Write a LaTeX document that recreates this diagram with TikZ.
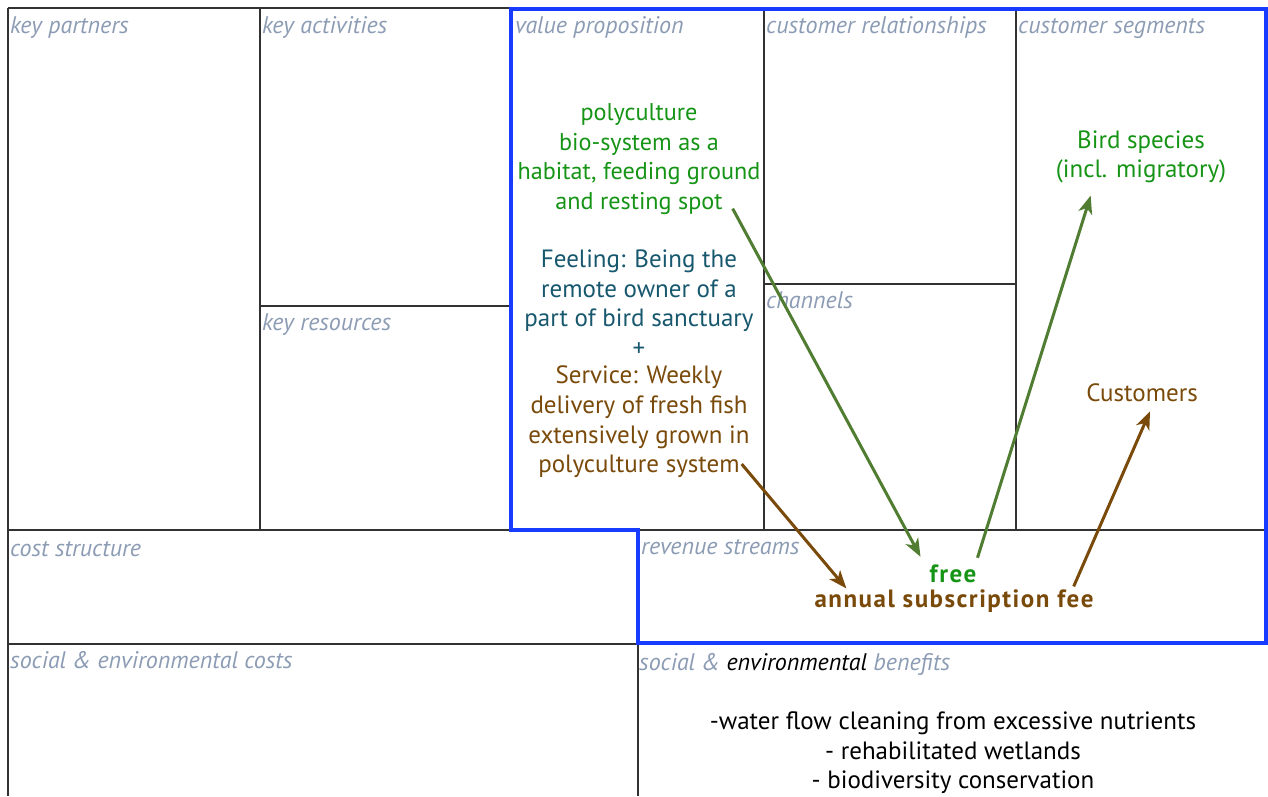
\documentclass[tikz,border=0pt]{standalone}
\usepackage{fontspec}
\setmainfont{PT Sans}
\usetikzlibrary{arrows.meta,calc}
\definecolor{labelgray}{RGB}{140,156,180}
\definecolor{vpgreen}{RGB}{22,148,22}
\definecolor{vpteal}{RGB}{24,88,110}
\definecolor{vpbrown}{RGB}{122,74,10}
\definecolor{arrgreen}{RGB}{80,125,50}
\definecolor{frameblue}{RGB}{24,60,255}
\definecolor{gridline}{RGB}{50,50,50}
\begin{document}
\begin{tikzpicture}[x=1pt,y=-1pt,
  lbl/.style={font=\itshape\fontsize{24}{26}\selectfont, text=labelgray, anchor=base west, inner sep=0pt},
  body/.style={font=\fontsize{25}{29.6}\selectfont, align=center, inner sep=0pt},
  boldtxt/.style={font=\bfseries\fontsize{25}{27}\selectfont\addfontfeature{LetterSpace=6}, inner sep=0pt},
  grid/.style={draw=gridline, line width=1.1pt},
  conn/.style={line width=3pt, -{Stealth[length=18pt,width=14pt,inset=5pt]}}]
\useasboundingbox (0,0) rectangle (1268,796);
\fill[white] (0,0) rectangle (1268,796);

% canvas grid
\draw[grid] (8,8) -- (1268,8);
\draw[grid] (8,8) -- (8,796);
\draw[grid] (260,8) -- (260,530);
\draw[grid] (260,306) -- (511,306);
\draw[grid] (764,8) -- (764,530);
\draw[grid] (764,284) -- (1016,284);
\draw[grid] (1016,8) -- (1016,530);
\draw[grid] (8,530) -- (1268,530);
\draw[grid] (638,530) -- (638,796);
\draw[grid] (8,644) -- (1268,644);

% highlighted value / revenue region
\draw[frameblue, line width=4pt, line join=miter]
  (511,530) -- (511,9) -- (1266,9) -- (1266,643) -- (638,643) -- (638,530) -- cycle;

% block titles
\node[lbl] (kp) at (10,33) {key partners};
\node[lbl] (ka) at (262,33) {key activities};
\node[lbl] (vp) at (515,33) {value proposition};
\node[lbl] (cr) at (766,33) {customer relationships};
\node[lbl] (cs) at (1018,33) {customer segments};
\node[lbl] (kr) at (262,330) {key resources};
\node[lbl] (ch) at (766,308) {channels};
\node[lbl] (cst) at (10,556) {cost structure};
\node[lbl] (rs) at (641,554) {revenue streams};
\node[lbl] (sec) at (10,668) {social \& environmental costs};
\node[lbl] (seb) at (639,670) {social \& \textcolor{black}{environmental} benefits};

% value proposition texts
\node[body, text=vpgreen, font=\fontsize{24.2}{29.6}\selectfont] (habitat) at (639,159) {polyculture\\bio-system as a\\habitat, feeding ground\\and resting spot};
\node[body, text=vpteal] (feeling) at (639,303) {Feeling: Being the\\remote owner of a\\part of bird sanctuary\\+};
\node[body, text=vpbrown] (service) at (639,422) {Service: Weekly\\delivery of fresh fish\\extensively grown in\\polyculture system};

% customer segments
\node[body, text=vpgreen] (birds) at (1141,157) {Bird species\\(incl. migratory)};
\node[body, text=vpbrown] (customers) at (1142,393) {Customers};

% revenue streams
\node[boldtxt, text=vpgreen] (free) at (953,574) {free};
\node[boldtxt, text=vpbrown] (fee) at (954,601) {annual subscription fee};

% social & environmental benefits
\node[body, text=black] (benefits) at (953,753) {-water flow cleaning from excessive nutrients\\- rehabilitated wetlands\\- biodiversity conservation};

% connectors
\draw[conn, arrgreen] ($(habitat.south east)+(-28,-6)$) -- ($(free.north west)+(-9,-8)$);
\draw[conn, arrgreen] ($(free.north east)+(1,-7)$) -- ($(birds.south west)+(35,12)$);
\draw[conn, vpbrown] ($(service.south east)+(-8,-14)$) -- ($(fee.north west)+(32,-1)$);
\draw[conn, vpbrown] ($(fee.north east)+(-20,-3)$) -- ($(customers.south)+(8,9)$);
\end{tikzpicture}
\end{document}
